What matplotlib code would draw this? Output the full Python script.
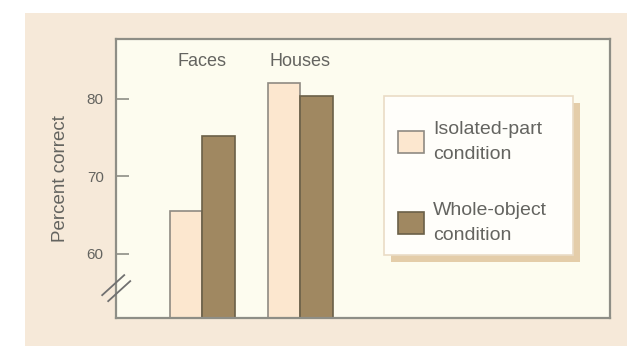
import matplotlib
matplotlib.use("Agg")
import matplotlib.pyplot as plt
from matplotlib.patches import Rectangle, Patch

plt.rcParams["font.family"] = ["Liberation Sans", "DejaVu Sans"]

# data
groups = ["Faces", "Houses"]
isolated_part = [65.5, 82.0]
whole_object = [75.2, 80.4]
series_labels = ["Isolated-part\ncondition", "Whole-object\ncondition"]
yticks = [60, 70, 80]

text_gray = "#646460"
spine_gray = "#8e8e86"
light_fill = "#fce7cf"
light_edge = "#8f8a82"
dark_fill = "#a08861"
dark_edge = "#6b6048"

fig = plt.figure(figsize=(6.35, 3.46), dpi=100, facecolor="white")
# beige page panel behind the plot
fig.patches.append(Rectangle((0.039, 0.0), 0.948, 0.962, transform=fig.transFigure,
                             facecolor="#f6e9d9", edgecolor="none", zorder=-10))

ax = fig.add_axes([0.183, 0.081, 0.778, 0.806])
ax.set_facecolor("#fdfcef")

width = 0.33
xs = list(range(len(groups)))
ax.bar([x - width / 2 for x in xs], isolated_part, width, color=light_fill,
       edgecolor=light_edge, linewidth=1.2, zorder=2)
ax.bar([x + width / 2 for x in xs], whole_object, width, color=dark_fill,
       edgecolor=dark_edge, linewidth=1.2, zorder=2)

ax.set_xlim(-0.878, 4.16)
ax.set_ylim(51.7, 87.7)

for x, name in zip(xs, groups):
    ax.text(x, 84.8, name, ha="center", va="center", fontsize=13, color=text_gray)

ax.set_xticks([])
ax.set_yticks(yticks)
ax.tick_params(axis="y", direction="in", length=9, width=1.2, color=spine_gray,
               pad=9, labelsize=11, labelcolor=text_gray)
ax.set_ylabel("Percent correct", fontsize=13.5, color=text_gray, labelpad=13)

for side in ["left", "right", "top", "bottom"]:
    ax.spines[side].set_color(spine_gray)
    ax.spines[side].set_linewidth(1.6)

# axis break marks on the left spine (two parallel slashes)
px = 1 / (0.778 * 635)
py = 1 / (0.806 * 346)
for off in [-3, 3]:
    xa, ya = -11 + off, -10 - off
    xb, yb = 11 + off, 10 - off
    ax.plot([xa * px, xb * px], [0.107 + ya * py, 0.107 + yb * py],
            transform=ax.transAxes, color="#707070", linewidth=1.3,
            clip_on=False, zorder=5)

# legend box with offset shadow
ax.add_patch(Rectangle((0.557, 0.201), 0.382, 0.570, transform=ax.transAxes,
                       facecolor="#e4cda9", edgecolor="none", zorder=3))
ax.add_patch(Rectangle((0.543, 0.226), 0.382, 0.570, transform=ax.transAxes,
                       facecolor="#fffefa", edgecolor="#eadcc6", linewidth=1.2,
                       zorder=4))

handles = [Patch(facecolor=light_fill, edgecolor=light_edge, linewidth=1.2),
           Patch(facecolor=dark_fill, edgecolor=dark_edge, linewidth=1.2)]
leg = ax.legend(handles, series_labels, loc="upper left",
                bbox_to_anchor=(0.571, 0.705), frameon=False, fontsize=14,
                handlelength=1.3, handleheight=1.35, handletextpad=0.5,
                labelspacing=2.0, borderpad=0, borderaxespad=0)
leg.set_zorder(6)
for t in leg.get_texts():
    t.set_color(text_gray)
    t.set_linespacing(1.6)

fig.savefig("out.png", dpi=100, facecolor=fig.get_facecolor())
